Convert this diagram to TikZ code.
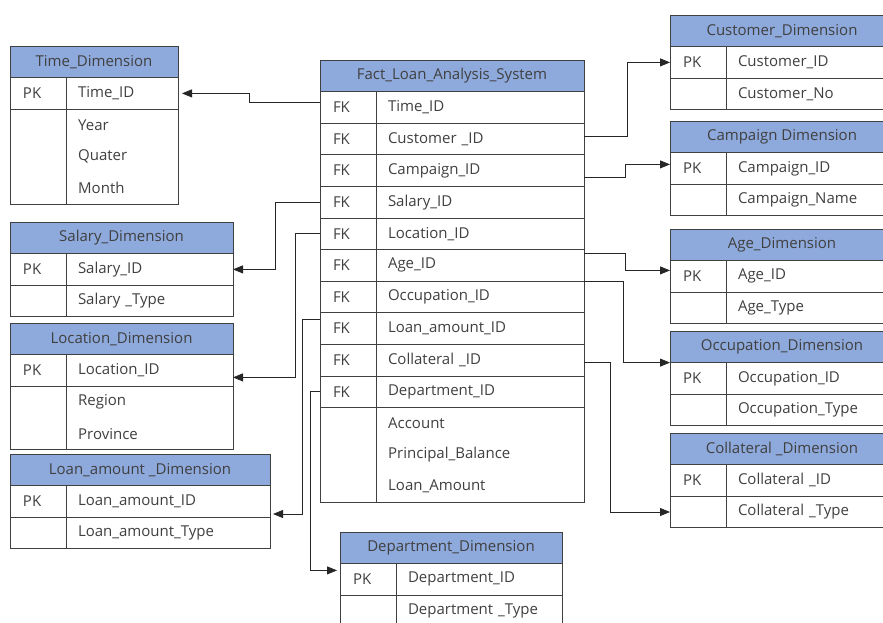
\documentclass[tikz,border=0pt]{standalone}
\usepackage{fontspec}
\setmainfont{Open Sans}
\usetikzlibrary{arrows.meta}

\definecolor{hdrblue}{RGB}{142,169,219}
\definecolor{txtgray}{RGB}{64,64,64}

\begin{document}
\begin{tikzpicture}[x=1pt,y=-1pt,
  font=\fontsize{15}{17}\selectfont, text=txtgray,
  cell/.style={draw=black!75, line width=0.9pt, anchor=north west, outer sep=0pt,
    minimum height=31.6pt, inner ysep=0pt},
  hdr/.style={cell, fill=hdrblue, minimum width=#1},
  keycell/.style={cell, text width=30pt, inner xsep=13pt, align=left},
  namecell/.style={cell, text width=#1, inner xsep=12pt, align=left},
  field/.style={anchor=west, inner xsep=12pt, inner ysep=0pt},
  link/.style={draw=black!85, line width=0.8pt, -{Triangle[length=10pt,width=8pt]}}]
\useasboundingbox (0,0) rectangle (883,622);
\fill[white] (0,0) rectangle (883,622);
\clip (0,0) rectangle (883,622);

% fact table
\node[hdr=264pt] (fact) at (320,60) {Fact\_Loan\_Analysis\_System};
\foreach \n/\fld [count=\i from 0] in {time/Time\_ID, cust/Customer \_ID,
    camp/Campaign\_ID, sal/Salary\_ID, loc/Location\_ID, age/Age\_ID,
    occ/Occupation\_ID, loan/Loan\_amount\_ID, coll/Collateral \_ID,
    dept/Department\_ID} {
  \node[keycell] (fk-\n) at ([yshift=-31.6*\i]fact.south west) {FK};
  \node[namecell=184pt] (f-\n) at (fk-\n.north east) {\fld};
}
\node[keycell, minimum height=94.8pt] (fk-x) at (fk-dept.south west) {};
\node[namecell=184pt, minimum height=94.8pt] (f-at) at (fk-x.north east) {};
\foreach \fld [count=\i from 0] in {Account, Principal\_Balance, Loan\_Amount}
  \node[field] (f-a\i) at ([yshift=-15.8-31.6*\i]f-at.north west) {\fld};

% left dimensions
\node[hdr=168pt] (time) at (10,46) {Time\_Dimension};
\node[keycell] (time-pk) at (time.south west) {PK};
\node[namecell=88pt] (time-id) at (time-pk.north east) {Time\_ID};
\node[keycell, minimum height=94.8pt] (time-k) at (time-pk.south west) {};
\node[namecell=88pt, minimum height=94.8pt] (time-at) at (time-k.north east) {};
\foreach \fld [count=\i from 0] in {Year, Quater, Month}
  \node[field] (time-a\i) at ([yshift=-15.8-31.6*\i]time-at.north west) {\fld};

\node[hdr=223pt] (sal) at (10,222) {Salary\_Dimension};
\node[keycell] (sal-pk) at (sal.south west) {PK};
\node[namecell=143pt] (sal-id) at (sal-pk.north east) {Salary\_ID};
\node[keycell] (sal-k) at (sal-pk.south west) {};
\node[namecell=143pt] (sal-ty) at (sal-k.north east) {Salary \_Type};

\node[hdr=223pt] (loc) at (10,323) {Location\_Dimension};
\node[keycell] (loc-pk) at (loc.south west) {PK};
\node[namecell=143pt] (loc-id) at (loc-pk.north east) {Location\_ID};
\node[keycell, minimum height=63.2pt] (loc-k) at (loc-pk.south west) {};
\node[namecell=143pt, minimum height=63.2pt] (loc-at) at (loc-k.north east) {};
\foreach \fld [count=\i from 0] in {Region, Province}
  \node[field] (loc-a\i) at ([yshift=-15.8-31.6*\i]loc-at.north west) {\fld};

\node[hdr=260pt] (la) at (10,454) {Loan\_amount \_Dimension};
\node[keycell] (la-pk) at (la.south west) {PK};
\node[namecell=180pt] (la-id) at (la-pk.north east) {Loan\_amount\_ID};
\node[keycell] (la-k) at (la-pk.south west) {};
\node[namecell=180pt] (la-ty) at (la-k.north east) {Loan\_amount\_Type};

\node[hdr=222pt] (dep) at (340,532) {Department\_Dimension};
\node[keycell] (dep-pk) at (dep.south west) {PK};
\node[namecell=142pt] (dep-id) at (dep-pk.north east) {Department\_ID};
\node[keycell] (dep-k) at (dep-pk.south west) {};
\node[namecell=142pt] (dep-ty) at (dep-k.north east) {Department \_Type};

% right dimensions
\foreach \n/\top/\title/\id/\ty in {cust/15/Customer\_Dimension/Customer\_ID/Customer\_No,
    camp/121/Campaign Dimension/Campaign\_ID/Campaign\_Name,
    age/229/Age\_Dimension/Age\_ID/Age\_Type,
    occ/331/Occupation\_Dimension/Occupation\_ID/Occupation\_Type,
    coll/433/Collateral \_Dimension/Collateral \_ID/Collateral \_Type} {
  \node[hdr=224pt] (\n) at (670,\top) {\title};
  \node[keycell] (\n-pk) at (\n.south west) {PK};
  \node[namecell=144pt] (\n-id) at (\n-pk.north east) {\id};
  \node[keycell] (\n-k) at (\n-pk.south west) {};
  \node[namecell=144pt] (\n-ty) at (\n-k.north east) {\ty};
}

% connectors
\draw[link, shorten >=4pt] ([yshift=5pt]fk-time.west) -- ++(-71,0) |- (time-id.east);
\draw[link] (fk-sal.west) -- ++(-45,0) |- (sal-id.east);
\draw[link] (fk-loc.west) -- ++(-25,0) |- ([yshift=-7pt]loc-id.east);
\draw[link, shorten >=3pt] ([yshift=9pt]fk-loan.west) -- ++(-18,0) |- ([yshift=-12.6pt]la-id.east);
\draw[link, shorten >=3pt] (fk-dept.west) -- ++(-10,0) |- ([yshift=9pt]dep-pk.west);
\draw[link] ([yshift=3pt]f-cust.east) -- ++(43,0) |- (cust-pk.west);
\draw[link] ([yshift=-7pt]f-camp.east) -- ++(41,0) |- ([yshift=4pt]camp-pk.west);
\draw[link] ([yshift=12pt]f-age.east) -- ++(41,0) |- ([yshift=6pt]age-pk.west);
\draw[link] (f-occ.north east) -- ++(39,0) |- (occ-pk.north west);
\draw[link] ([yshift=-2pt]f-coll.east) -- ++(26,0) |- (coll-k.west);
\end{tikzpicture}
\end{document}
